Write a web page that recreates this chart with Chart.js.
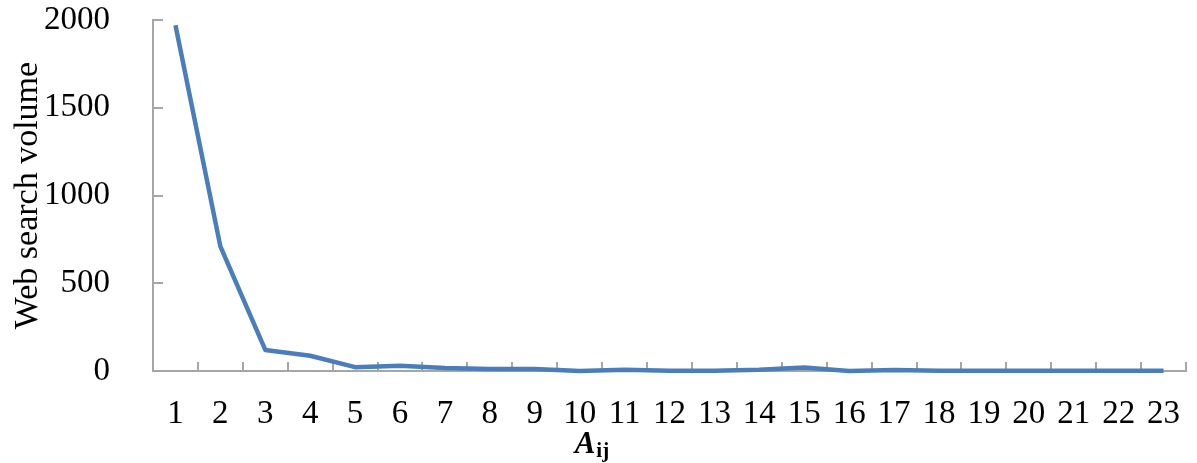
<!DOCTYPE html>
<html><head><meta charset="utf-8">
<script src="https://cdn.jsdelivr.net/npm/chart.js@4"></script>
<style>html,body{margin:0;padding:0;background:#fff}#wrap{width:1197px;height:463px;position:relative}</style>
</head><body><div id="wrap"><canvas id="c"></canvas></div>
<script>
const categories = ['1','2','3','4','5','6','7','8','9','10','11','12','13','14','15','16','17','18','19','20','21','22','23'];
const searchVolume = [1970, 710, 120, 87, 22, 30, 17, 12, 12, 0, 7, 2, 1, 7, 20, 0, 5, 1, 1, 1, 1, 1, 1];
const yTickValues = [0, 500, 1000, 1500, 2000];
const yTickLabels = ['0', '500', '1000', '1500', '2000'];
const yTitle = 'Web search volume';
const xTitleMain = 'A';
const xTitleSub = 'ij';

const axisColor = '#a6a6a6';
const serif = '"Liberation Serif", "Times New Roman", serif';

const insideTicks = {
  id: 'insideTicks',
  beforeDatasetsDraw(chart) {
    const {ctx, scales: {x, y}} = chart;
    ctx.save();
    ctx.strokeStyle = axisColor;
    ctx.lineWidth = 2;
    ctx.beginPath();
    const n = categories.length;
    const w = (x.right - x.left) / n;
    for (let k = 1; k <= n; k++) {
      const px = Math.round(x.left + k * w);
      ctx.moveTo(px, x.top);
      ctx.lineTo(px, x.top - 9);
    }
    yTickValues.forEach(v => {
      const py = Math.round(y.getPixelForValue(v));
      ctx.moveTo(y.right, py);
      ctx.lineTo(y.right + 10, py);
    });
    ctx.stroke();
    ctx.restore();
  },
  afterDraw(chart) {
    const {ctx, scales: {x}} = chart;
    ctx.save();
    ctx.fillStyle = '#000';
    ctx.textBaseline = 'alphabetic';
    ctx.textAlign = 'left';
    const ax = x.getPixelForValue(9) - 5;
    ctx.font = 'bold italic 31px ' + serif;
    ctx.fillText(xTitleMain, ax, 453);
    const aw = ctx.measureText(xTitleMain).width;
    ctx.font = 'bold 21px ' + serif;
    ctx.fillText(xTitleSub, ax + aw + 1, 457);
    ctx.restore();
  }
};

function zeroPad(s) { s.paddingTop = 0; s.paddingBottom = 0; s.paddingLeft = 0; s.paddingRight = 0; }

new Chart(document.getElementById('c'), {
  type: 'line',
  data: {
    labels: categories,
    datasets: [{
      data: searchVolume,
      borderColor: '#4a7ebb',
      borderWidth: 4.5,
      pointRadius: 0,
      tension: 0,
      borderJoinStyle: 'round',
      clip: false
    }]
  },
  options: {
    responsive: true,
    maintainAspectRatio: false,
    animation: false,
    devicePixelRatio: 1,
    layout: {padding: {top: 20, right: 11, left: 0, bottom: 0}},
    plugins: {legend: {display: false}, tooltip: {enabled: false}},
    scales: {
      x: {
        type: 'category',
        offset: true,
        grid: {display: true, drawOnChartArea: false, drawTicks: false},
        border: {display: true, color: axisColor, width: 2},
        ticks: {color: '#000', font: {family: serif, size: 33}, padding: 24, maxRotation: 0, autoSkip: false},
        afterFit(s) { s.height = 92; zeroPad(s); }
      },
      y: {
        min: 0, max: 2000,
        afterBuildTicks(s) { s.ticks = yTickValues.map(v => ({value: v})); },
        grid: {display: true, drawOnChartArea: false, drawTicks: false},
        border: {display: true, color: axisColor, width: 2},
        ticks: {
          color: '#000', font: {family: serif, size: 33}, padding: 43,
          callback: (v) => yTickLabels[yTickValues.indexOf(v)]
        },
        title: {display: true, text: yTitle, color: '#000', font: {family: serif, size: 34}, padding: {top: 8, bottom: 0}},
        afterFit(s) { s.width = 153; zeroPad(s); }
      }
    }
  },
  plugins: [insideTicks]
});
</script>
</body></html>
